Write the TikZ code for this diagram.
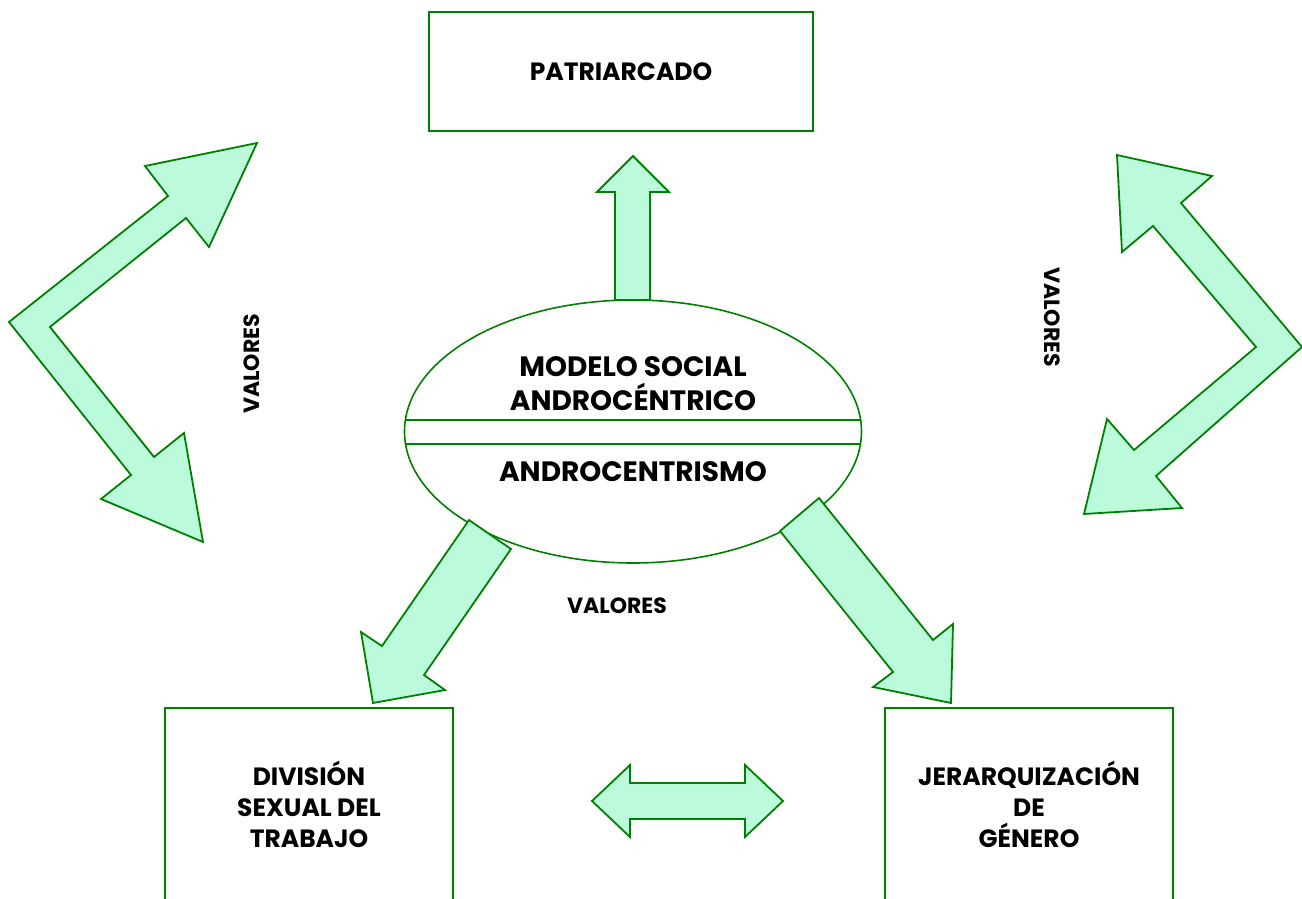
\documentclass[tikz,border=0pt]{standalone}
\usepackage{fontspec}
\setmainfont{Poppins}
\usepackage{tikz}
\usetikzlibrary {positioning,
                 shapes.geometric}
\definecolor{verde}{RGB}{0,128,0}
\definecolor{menta}{RGB}{187,250,219}
\tikzset{
        caja/.style={draw=verde, line width=1pt, rectangle, align=center,
                     font=\fontsize{12.5}{15.5}\selectfont\bfseries},
        elipse/.style={draw=verde, line width=0.8pt, ellipse, fill=white,
                       minimum width=228.5pt, minimum height=131.5pt},
        titulo/.style={align=center, font=\fontsize{14}{17}\selectfont\bfseries},
        valores/.style={font=\fontsize{11}{13}\selectfont\bfseries},
        flecha/.style={draw=verde, line width=0.9pt, fill=menta, line join=miter},
}

\begin{document}
\begin{tikzpicture}[x=0.5pt, y=-0.5pt]
    \clip (0,0) rectangle (1302,899);

    \node[caja, minimum width=192pt, minimum height=59.5pt] (patriarcado)
        at (621,71.5) {PATRIARCADO};

    \node[caja, minimum width=144pt, minimum height=96pt] (division)
        at (309,804) {DIVISIÓN\\SEXUAL DEL\\TRABAJO};

    \node[caja, minimum width=144pt, minimum height=96pt] (jerarquia)
        at (1029,804) {JERARQUIZACIÓN\\DE\\GÉNERO};

    % el modelo central
    \node[elipse] (modelo) at (633,431.5) {};
    \draw[verde, line width=0.8pt] (405,420) -- (861,420);
    \draw[verde, line width=0.8pt] (405,444) -- (861,444);
    \node[titulo] (social) at (633,384) {MODELO SOCIAL\\ANDROCÉNTRICO};
    \node[titulo] (centrismo) at (633,472) {ANDROCENTRISMO};

    % flechas
    \draw[flecha] (615,300) -- (615,192) -- (597,192) -- (633,156) -- (669,192)
        -- (650,192) -- (650,300) -- cycle;

    \draw[flecha] (469,520) -- (511,549) -- (424,675) -- (445,690) -- (373,703)
        -- (361,632) -- (382,646) -- cycle;

    \draw[flecha] (819,498) -- (933,640) -- (953,624) -- (951,703) -- (873,687)
        -- (893,672) -- (780,531) -- cycle;

    \draw[flecha] (592,801) -- (630,765) -- (630,783) -- (745,783) -- (745,765)
        -- (783,801) -- (745,837) -- (745,819) -- (630,819) -- (630,837) -- cycle;

    \draw[flecha] (257,143) -- (209,247) -- (186,218) -- (50,327) -- (154,457)
        -- (184,433) -- (203,542) -- (101,499) -- (131,475) -- (9,322)
        -- (168,196) -- (145,166) -- cycle;

    \draw[flecha] (1117,155) -- (1212,176) -- (1181,203) -- (1302,347)
        -- (1156,476) -- (1182,508) -- (1084,514) -- (1107,419) -- (1134,450)
        -- (1256,347) -- (1153,226) -- (1122,252) -- cycle;

    % etiquetas
    \node[valores, rotate=90] (valoresizq) at (252,364) {VALORES};
    \node[valores, rotate=-90] (valoresder) at (1052,317) {VALORES};
    \node[valores] (valoresabajo) at (617,606) {VALORES};

\end{tikzpicture}
\end{document}
